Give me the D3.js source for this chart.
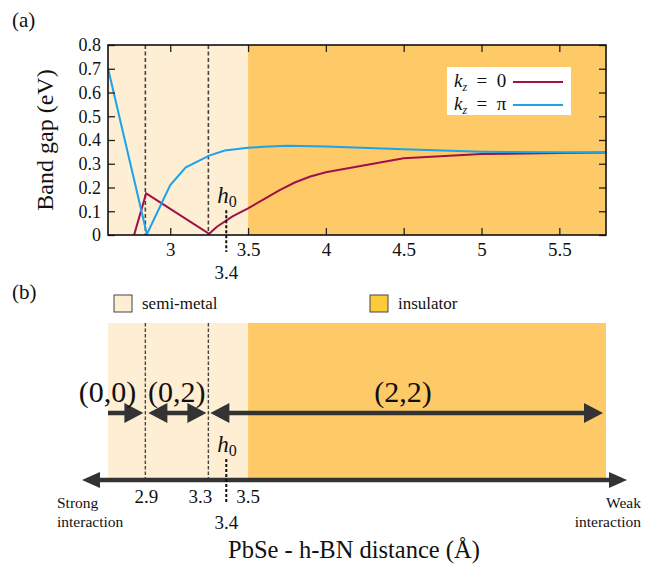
<!DOCTYPE html>
<html><head><meta charset="utf-8">
<script src="https://cdn.jsdelivr.net/npm/d3@7"></script>
<style>body{margin:0;background:#fff}svg{display:block}</style>
</head><body><svg id="c" width="652" height="564"></svg>
<script>
// ---- data ----
const xTicks = [3, 3.5, 4, 4.5, 5, 5.5];
const yTicks = [0, 0.1, 0.2, 0.3, 0.4, 0.5, 0.6, 0.7, 0.8];
const kz0X  = [2.75, 2.845, 3.25, 3.3, 3.4, 3.5, 3.6, 3.7, 3.8, 3.9, 4.0, 4.5, 5.0, 5.5, 5.8];
const kz0Y  = [-0.04, 0.175, 0.005, 0.035, 0.078, 0.112, 0.150, 0.188, 0.221, 0.246, 0.264, 0.323, 0.341, 0.345, 0.347];
const kzPiX = [2.6, 2.85, 3.0, 3.1, 3.25, 3.35, 3.5, 3.6, 3.75, 4.0, 4.5, 5.0, 5.5, 5.8];
const kzPiY = [0.702, 0.003, 0.21, 0.285, 0.334, 0.356, 0.367, 0.372, 0.376, 0.373, 0.361, 0.351, 0.348, 0.347];
const regionNames = ["semi-metal", "insulator"];
const regionFrom = [2.6, 3.5];
const regionTo = [3.5, 5.8];
const boundaries = [2.84, 3.245];
const boundaryLabels = ["2.9", "3.3"];
const h0 = 3.36;
const h0Label = "3.4";
const semiEnd = 3.5;
const semiEndLabel = "3.5";
const stateLabels = ["(0,0)", "(0,2)", "(2,2)"];
const seriesNames = ["0", "π"];

// ---- styles ----
const FONT = "'Liberation Serif', 'Times New Roman', Times, serif";
const regionColors = ["#FEEED3", "#FDCA67"];
const seriesColors = ["#A1104A", "#1BA3EC"];
const dark = "#333";

const svg = d3.select("#c").style("font-family", FONT);
const x = d3.scaleLinear().domain([2.6, 5.8]).range([108, 606]);
const y = d3.scaleLinear().domain([0, 0.8]).range([235, 45]);
function T(g) { return g.append("text").attr("fill", "#111").style("font-family", FONT); }

// ===== Panel (a) =====
T(svg).attr("x", 12).attr("y", 27).attr("font-size", 21).text("(a)");
const gA = svg.append("g");
regionNames.forEach((n, i) => {
  gA.append("rect").attr("x", x(regionFrom[i])).attr("y", y(0.8))
    .attr("width", x(regionTo[i]) - x(regionFrom[i])).attr("height", y(0) - y(0.8))
    .attr("fill", regionColors[i]);
});
boundaries.forEach(b => {
  gA.append("line").attr("x1", x(b)).attr("x2", x(b)).attr("y1", y(0.8)).attr("y2", y(0))
    .attr("stroke", "#444").attr("stroke-width", 1.6).attr("stroke-dasharray", "4,2.5");
});
svg.append("clipPath").attr("id", "clipA").append("rect")
  .attr("x", x(2.6)).attr("y", y(0.8)).attr("width", x(5.8) - x(2.6)).attr("height", y(0) - y(0.8));
const line = d3.line().x(d => x(d[0])).y(d => y(d[1]));
const series = [d3.zip(kz0X, kz0Y), d3.zip(kzPiX, kzPiY)];
series.forEach((s, i) => {
  gA.append("path").attr("d", line(s)).attr("fill", "none").attr("stroke", seriesColors[i])
    .attr("stroke-width", 2).attr("clip-path", "url(#clipA)");
});
const fmt = d => d === 0 ? "0" : d3.format(".1f")(d);
const axB = gA.append("g").attr("transform", `translate(0,${y(0)})`)
  .call(d3.axisBottom(x).tickValues(xTicks).tickSize(-7).tickPadding(8).tickFormat(d3.format("~g")));
const axL = gA.append("g").attr("transform", `translate(${x(2.6)},0)`)
  .call(d3.axisLeft(y).tickValues(yTicks).tickSize(-7).tickPadding(7).tickFormat(fmt));
const axT = gA.append("g").attr("transform", `translate(0,${y(0.8)})`)
  .call(d3.axisTop(x).tickValues(xTicks).tickSize(-7).tickFormat(""));
const axR = gA.append("g").attr("transform", `translate(${x(5.8)},0)`)
  .call(d3.axisRight(y).tickValues(yTicks).tickSize(-7).tickFormat(""));
[axB, axL, axT, axR].forEach(a => {
  a.attr("font-family", null);
  a.select(".domain").remove();
  a.selectAll(".tick line").attr("stroke", "#222").attr("stroke-width", 1.3);
  a.selectAll("text").style("font-family", FONT).attr("fill", "#111");
});
axB.selectAll("text").attr("font-size", 19);
axL.selectAll("text").attr("font-size", 18);
gA.append("rect").attr("x", x(2.6)).attr("y", y(0.8)).attr("width", x(5.8) - x(2.6))
  .attr("height", y(0) - y(0.8)).attr("fill", "none").attr("stroke", "#111").attr("stroke-width", 1.6);
T(svg).attr("transform", `translate(53,${(y(0) + y(0.8)) / 2}) rotate(-90)`)
  .attr("text-anchor", "middle").attr("font-size", 24).text("Band gap (eV)");
gA.append("line").attr("x1", x(h0)).attr("x2", x(h0)).attr("y1", y(0.1) - 1).attr("y2", y(0) + 17)
  .attr("stroke", "#111").attr("stroke-width", 2).attr("stroke-dasharray", "3,2");
const h0a = T(gA).attr("x", x(h0) - 9).attr("y", 203).attr("font-size", 23);
h0a.append("tspan").attr("font-style", "italic").text("h");
h0a.append("tspan").attr("font-size", 16).attr("dy", 4).text("0");
T(gA).attr("x", x(h0)).attr("y", 279).attr("text-anchor", "middle").attr("font-size", 19).text(h0Label);
const lg = gA.append("g");
lg.append("rect").attr("x", 447).attr("y", 67).attr("width", 124).attr("height", 48).attr("fill", "#fff");
seriesNames.forEach((n, i) => {
  const yy = 82 + i * 23;
  const t = T(lg).attr("x", 454).attr("y", yy + 5).attr("font-size", 19);
  t.append("tspan").attr("font-style", "italic").text("k");
  t.append("tspan").attr("font-style", "italic").attr("font-size", 12).attr("dy", 4).text("z");
  t.append("tspan").attr("dy", -4).attr("xml:space", "preserve").text("  =  " + n);
  lg.append("line").attr("x1", 513).attr("x2", 563).attr("y1", yy).attr("y2", yy)
    .attr("stroke", seriesColors[i]).attr("stroke-width", 2);
});

// ===== Panel (b) =====
T(svg).attr("x", 12).attr("y", 299).attr("font-size", 21).text("(b)");
const gB = svg.append("g");
const legX = [114, 370];
const legFill = ["#FEEED3", "#FDCB3A"];
regionNames.forEach((n, i) => {
  gB.append("rect").attr("x", legX[i]).attr("y", 295).attr("width", 18).attr("height", 17)
    .attr("fill", legFill[i]).attr("stroke", "#444").attr("stroke-width", 1);
  T(gB).attr("x", legX[i] + 28).attr("y", 309).attr("font-size", 17).text(n);
});
const yTop = 323, yBot = 478, yArr = 413, yAx = 480;
regionNames.forEach((n, i) => {
  gB.append("rect").attr("x", x(regionFrom[i])).attr("y", yTop)
    .attr("width", x(regionTo[i]) - x(regionFrom[i])).attr("height", yBot - yTop).attr("fill", regionColors[i]);
});
boundaries.forEach(b => {
  gB.append("line").attr("x1", x(b)).attr("x2", x(b)).attr("y1", yTop).attr("y2", yAx)
    .attr("stroke", "#444").attr("stroke-width", 1.4).attr("stroke-dasharray", "3.5,2");
});
function arrow(x1, x2, yy, hl, hr, lw, len, hw) {
  gB.append("line").attr("x1", hl ? x1 + len - 2 : x1).attr("x2", hr ? x2 - len + 2 : x2)
    .attr("y1", yy).attr("y2", yy).attr("stroke", dark).attr("stroke-width", lw);
  if (hr) gB.append("path").attr("d", `M${x2},${yy}L${x2 - len},${yy - hw}L${x2 - len},${yy + hw}Z`).attr("fill", dark);
  if (hl) gB.append("path").attr("d", `M${x1},${yy}L${x1 + len},${yy - hw}L${x1 + len},${yy + hw}Z`).attr("fill", dark);
}
arrow(x(2.6), x(boundaries[0]) - 2, yArr, false, true, 4.5, 19, 10);
arrow(x(boundaries[0]) + 3, x(boundaries[1]) - 2, yArr, true, true, 4.5, 19, 10);
arrow(x(boundaries[1]) + 2, x(5.8) - 3, yArr, true, true, 4.5, 19, 10);
arrow(x(2.6) - 26, x(5.8) + 21, yAx, true, true, 4.5, 18, 8);
const labX = [x(2.6) - 0.5, (x(boundaries[0]) + x(boundaries[1])) / 2, 403];
stateLabels.forEach((s, i) => {
  T(gB).attr("x", labX[i]).attr("y", 402).attr("text-anchor", "middle").attr("font-size", 30).text(s);
});
gB.append("line").attr("x1", x(h0)).attr("x2", x(h0)).attr("y1", 459).attr("y2", 502)
  .attr("stroke", "#111").attr("stroke-width", 2).attr("stroke-dasharray", "3,2");
const h0b = T(gB).attr("x", x(h0) - 9).attr("y", 452).attr("font-size", 23);
h0b.append("tspan").attr("font-style", "italic").text("h");
h0b.append("tspan").attr("font-size", 16).attr("dy", 4).text("0");
T(gB).attr("x", x(boundaries[0]) + 1).attr("y", 503).attr("text-anchor", "middle").attr("font-size", 19).text(boundaryLabels[0]);
T(gB).attr("x", x(boundaries[1]) - 8).attr("y", 503).attr("text-anchor", "middle").attr("font-size", 19).text(boundaryLabels[1]);
T(gB).attr("x", x(semiEnd)).attr("y", 503).attr("text-anchor", "middle").attr("font-size", 19).text(semiEndLabel);
T(gB).attr("x", x(h0)).attr("y", 529).attr("text-anchor", "middle").attr("font-size", 19).text(h0Label);
const st = T(gB).attr("font-size", 15.5);
st.append("tspan").attr("x", 57).attr("y", 508).text("Strong");
st.append("tspan").attr("x", 57).attr("y", 527).text("interaction");
const wk = T(gB).attr("font-size", 15.5).attr("text-anchor", "end");
wk.append("tspan").attr("x", 641).attr("y", 508).text("Weak");
wk.append("tspan").attr("x", 641).attr("y", 527).text("interaction");
T(svg).attr("x", 354).attr("y", 558).attr("text-anchor", "middle").attr("font-size", 24.5)
  .text("PbSe - h-BN distance (Å)");
</script></body></html>
